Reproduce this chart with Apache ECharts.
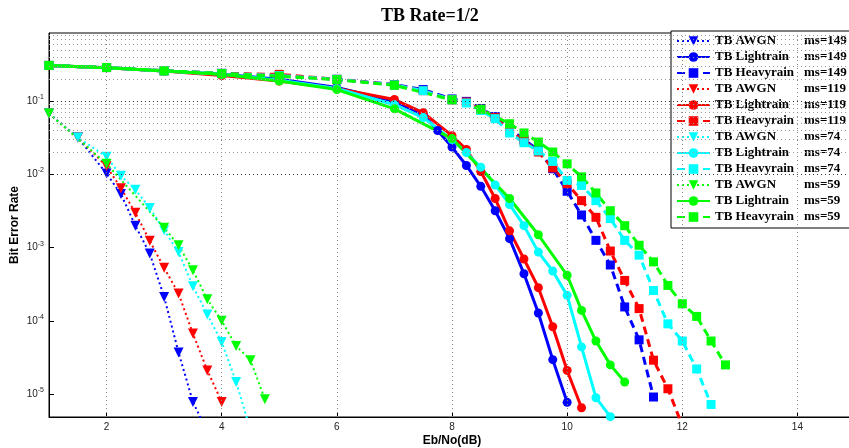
<!DOCTYPE html>
<html><head><meta charset="utf-8">
<script src="https://cdn.jsdelivr.net/npm/echarts@6/dist/echarts.min.js"></script>
<style>html,body{margin:0;padding:0;background:#fff}#c{width:849px;height:448px}</style>
</head><body><div id="c"></div>
<script>
const titleText = 'TB Rate=1/2';
const xLabel = 'Eb/No(dB)';
const yLabel = 'Bit Error Rate';
const xTicks = [2, 4, 6, 8, 10, 12, 14];
const xMin = 1, xMax = 15;
const yMin = 4.85e-6, yMax = 0.86;

const seriesNames = [
  'TB AWGN|ms=149', 'TB Lightrain|ms=149', 'TB Heavyrain|ms=149',
  'TB AWGN|ms=119', 'TB Lightrain|ms=119', 'TB Heavyrain|ms=119',
  'TB AWGN|ms=74', 'TB Lightrain|ms=74', 'TB Heavyrain|ms=74',
  'TB AWGN|ms=59', 'TB Lightrain|ms=59', 'TB Heavyrain|ms=59'
];
const colors = ['#0000ff', '#ff0000', '#00ffff', '#00ff00'];

// ms=149 (blue)
const awgn149X = [1, 1.5, 2, 2.25, 2.5, 2.75, 3, 3.25, 3.5, 3.75];
const awgn149Y = [0.068, 0.032, 0.0103, 0.0054, 0.0020, 0.00083, 0.000212, 3.7e-5, 7.8e-6, 3e-6];
const light149X = [1, 2, 3, 4, 5, 6, 7, 7.5, 7.75, 8, 8.25, 8.5, 8.75, 9, 9.25, 9.5, 9.75, 10];
const light149Y = [0.31, 0.289, 0.26, 0.235, 0.2, 0.155, 0.1, 0.066, 0.04, 0.0237, 0.0133, 0.0069, 0.0032, 0.00133, 0.00044, 0.000128, 2.95e-5, 7.7e-6];
const heavy149X = [1, 2, 3, 4, 5, 6, 7, 7.5, 8, 8.25, 8.5, 8.75, 9, 9.25, 9.5, 9.75, 10, 10.25, 10.5, 10.75, 11, 11.25, 11.5];
const heavy149Y = [0.31, 0.29, 0.262, 0.242, 0.225, 0.2, 0.17, 0.145, 0.108, 0.1, 0.08, 0.062, 0.042, 0.03, 0.0214, 0.012, 0.0059, 0.0028, 0.00126, 0.00058, 0.000155, 5.5e-5, 9.1e-6];

// ms=119 (red)
const awgn119X = [1, 1.5, 2, 2.25, 2.5, 2.75, 3, 3.25, 3.5, 3.75, 4];
const awgn119Y = [0.068, 0.032, 0.013, 0.0065, 0.003, 0.00124, 0.00053, 0.000236, 6.7e-5, 2.1e-5, 7.8e-6];
const light119X = [1, 2, 3, 4, 5, 6, 7, 7.5, 8, 8.25, 8.5, 8.75, 9, 9.25, 9.5, 9.75, 10, 10.25];
const light119Y = [0.31, 0.289, 0.26, 0.225, 0.19, 0.15, 0.106, 0.07, 0.034, 0.022, 0.011, 0.0047, 0.0017, 0.0007, 0.000284, 8.3e-5, 2.1e-5, 6.5e-6];
const heavy119X = [1, 2, 3, 4, 5, 6, 7, 7.5, 8, 8.25, 8.5, 8.75, 9, 9.25, 9.5, 9.75, 10, 10.25, 10.5, 10.75, 11, 11.25, 11.5, 11.75, 12];
const heavy119Y = [0.31, 0.29, 0.262, 0.24, 0.234, 0.2, 0.168, 0.14, 0.105, 0.098, 0.078, 0.06, 0.04, 0.029, 0.0203, 0.0123, 0.0075, 0.0044, 0.0026, 0.0009, 0.000357, 0.000147, 2.9e-5, 1.18e-5, 3.7e-6];

// ms=74 (cyan)
const awgn74X = [1, 1.5, 2, 2.25, 2.5, 2.75, 3, 3.25, 3.5, 3.75, 4, 4.25, 4.5];
const awgn74Y = [0.068, 0.032, 0.0175, 0.0096, 0.0062, 0.0035, 0.00173, 0.00087, 0.000297, 0.000122, 5.15e-5, 1.46e-5, 3.2e-6];
const light74X = [1, 2, 3, 4, 5, 6, 7, 7.5, 8, 8.25, 8.5, 8.75, 9, 9.25, 9.5, 9.75, 10, 10.25, 10.5, 10.75];
const light74Y = [0.31, 0.289, 0.26, 0.235, 0.195, 0.15, 0.09, 0.06, 0.03, 0.02, 0.0126, 0.0072, 0.0039, 0.002, 0.00087, 0.00048, 0.000223, 4.4e-5, 8.9e-6, 4.9e-6];
const heavy74X = [1, 2, 3, 4, 5, 6, 7, 7.5, 8, 8.25, 8.5, 8.75, 9, 9.25, 9.5, 9.75, 10, 10.25, 10.5, 10.75, 11, 11.25, 11.5, 11.75, 12, 12.25, 12.5];
const heavy74Y = [0.31, 0.29, 0.262, 0.24, 0.225, 0.2, 0.168, 0.14, 0.105, 0.095, 0.075, 0.058, 0.037, 0.0272, 0.021, 0.0151, 0.0083, 0.0071, 0.0044, 0.0025, 0.00126, 0.00079, 0.00026, 9.1e-5, 5.3e-5, 2.2e-5, 7.2e-6];

// ms=59 (green)
const awgn59X = [1, 2, 3, 3.25, 3.5, 3.75, 4, 4.25, 4.5, 4.75];
const awgn59Y = [0.068, 0.014, 0.00188, 0.00108, 0.00049, 0.000197, 1e-4, 4.54e-5, 2.9e-5, 8.5e-6];
const light59X = [1, 2, 3, 4, 5, 6, 7, 8, 9, 9.5, 10, 10.25, 10.5, 10.75, 11];
const light59Y = [0.31, 0.289, 0.26, 0.235, 0.19, 0.145, 0.079, 0.031, 0.0047, 0.0015, 0.00042, 0.000139, 5.3e-5, 2.5e-5, 1.46e-5];
const heavy59X = [1, 2, 3, 4, 5, 6, 7, 8, 8.5, 9, 9.25, 9.5, 9.75, 10, 10.25, 10.5, 10.75, 11, 11.25, 11.5, 11.75, 12, 12.25, 12.5, 12.75];
const heavy59Y = [0.31, 0.29, 0.262, 0.24, 0.22, 0.198, 0.166, 0.105, 0.078, 0.0495, 0.037, 0.0278, 0.0203, 0.014, 0.0093, 0.0056, 0.0032, 0.002, 0.00108, 0.00064, 0.000305, 0.000171, 0.000115, 5.3e-5, 2.5e-5];

const groups = [
  [awgn149X, awgn149Y, light149X, light149Y, heavy149X, heavy149Y],
  [awgn119X, awgn119Y, light119X, light119Y, heavy119X, heavy119Y],
  [awgn74X, awgn74Y, light74X, light74Y, heavy74X, heavy74Y],
  [awgn59X, awgn59Y, light59X, light59Y, heavy59X, heavy59Y]
];

function pairs(xs, ys) { return xs.map((x, i) => [x, ys[i]]); }

const series = [];
const gridLines = [];
for (let k = -6; k <= 0; k++) {
  for (let m = 1; m <= 9; m++) {
    const v = m * Math.pow(10, k);
    if (v > yMin && v < yMax) {
      gridLines.push({ yAxis: v, lineStyle: { color: m === 1 ? '#333' : '#9a9a9a', type: [1, 3], width: 1 } });
    }
  }
}
xTicks.forEach(t => gridLines.push({ xAxis: t, lineStyle: { color: '#888', type: [1, 3], width: 1 } }));
series.push({
  name: 'grid', type: 'line', data: [], z: 0, silent: true,
  markLine: { silent: true, symbol: ['none', 'none'], label: { show: false }, data: gridLines, animation: false }
});

groups.forEach((g, gi) => {
  const c = colors[gi];
  series.push({
    name: seriesNames[gi * 3], type: 'line', data: pairs(g[0], g[1]),
    symbol: 'triangle', symbolRotate: 180, symbolSize: 10, color: c,
    lineStyle: { width: 2, type: [2, 3], color: c }, itemStyle: { color: c }, z: 2
  });
  series.push({
    name: seriesNames[gi * 3 + 1], type: 'line', data: pairs(g[2], g[3]),
    symbol: 'circle', symbolSize: 9, color: c,
    lineStyle: { width: 3, type: 'solid', color: c }, itemStyle: { color: c }, z: 2
  });
  series.push({
    name: seriesNames[gi * 3 + 2], type: 'line', data: pairs(g[4], g[5]),
    symbol: 'rect', symbolSize: 9, color: c,
    lineStyle: { width: 3, type: [8, 5], color: c }, itemStyle: { color: c }, z: 2
  });
});

const chart = echarts.init(document.getElementById('c'), null, { renderer: 'canvas' });
chart.setOption({
  animation: false,
  backgroundColor: '#fff',
  title: {
    text: titleText, left: 376, top: 2,
    textStyle: { fontFamily: 'Liberation Serif', fontWeight: 'bold', fontSize: 18, color: '#000' }
  },
  grid: { left: 49, top: 33, right: -6, bottom: 31, outerBoundsMode: 'none', containLabel: false, show: true, borderColor: '#000', borderWidth: 1, backgroundColor: 'transparent' },
  legend: {
    data: seriesNames, orient: 'vertical', left: 671, top: 31,
    padding: [3, 40, 4, 5], itemGap: 2, itemWidth: 33, itemHeight: 12,
    backgroundColor: '#fff', borderColor: '#000', borderWidth: 1, selectedMode: false,
    formatter: n => { const p = n.split('|'); return '{a|' + p[0] + '}{b|' + p[1] + '}'; },
    textStyle: {
      fontFamily: 'Liberation Serif', fontWeight: 'bold', fontSize: 13, color: '#000', lineHeight: 14,
      rich: {
        a: { width: 89, fontFamily: 'Liberation Serif', fontWeight: 'bold', fontSize: 13, lineHeight: 14 },
        b: { fontFamily: 'Liberation Serif', fontWeight: 'bold', fontSize: 13, lineHeight: 14 }
      }
    }
  },
  xAxis: {
    type: 'value', min: xMin, max: xMax,
    name: xLabel, nameLocation: 'middle', nameGap: 18, nameMoveOverlap: false,
    nameTextStyle: { fontFamily: 'Liberation Sans', fontWeight: 'bold', fontSize: 12, color: '#000' },
    axisLine: { show: true, onZero: false, lineStyle: { color: '#000' } },
    axisTick: { show: true, inside: true, length: 5, customValues: xTicks, lineStyle: { color: '#000' } },
    axisLabel: { customValues: xTicks, fontFamily: 'Liberation Sans', fontSize: 10, color: '#222', margin: 5 },
    splitLine: { show: false }
  },
  yAxis: {
    type: 'log', min: yMin, max: yMax, logBase: 10,
    name: yLabel, nameLocation: 'middle', nameGap: 28, nameMoveOverlap: false,
    nameTextStyle: { fontFamily: 'Liberation Sans', fontWeight: 'bold', fontSize: 12, color: '#000' },
    axisLine: { show: true, lineStyle: { color: '#000' } },
    axisTick: { show: true, inside: true, length: 5, lineStyle: { color: '#000' } },
    axisLabel: {
      showMinLabel: false, showMaxLabel: false, margin: 5,
      formatter: v => { const e = Math.round(Math.log10(v)); return '{b|10}{s|' + e + '}'; },
      rich: {
        b: { fontFamily: 'Liberation Sans', fontSize: 10, color: '#222' },
        s: { fontFamily: 'Liberation Sans', fontSize: 7, color: '#222', padding: [0, 0, 8, 0] }
      }
    },
    splitLine: { show: false }
  },
  series: series
});
</script></body></html>
